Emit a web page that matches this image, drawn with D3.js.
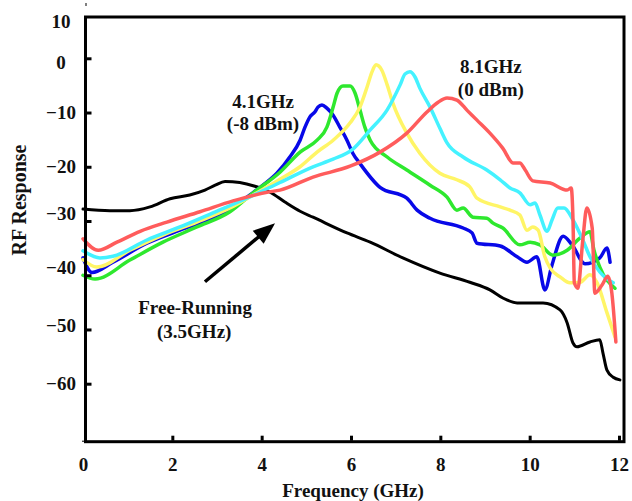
<!DOCTYPE html>
<html><head><meta charset="utf-8">
<script src="https://cdn.jsdelivr.net/npm/d3@7"></script>
<style>
html,body{margin:0;padding:0;background:#fff;}
svg{display:block;}
text{font-family:"Liberation Serif","Times New Roman",Times,serif;font-weight:bold;fill:#111;}
</style></head><body>
<svg id="chart" width="632" height="501"></svg>
<script>
// ---- data ----
const xTicks = [0, 2, 4, 6, 8, 10, 12];
const yTicks = [10, 0, -10, -20, -30, -40, -50, -60];
const xTitle = "Frequency (GHz)";
const yTitle = "RF Response";

// Free-running (black)
const freeRunning = [[0,-27.8],[0.6,-28.1],[1.05,-28.1],[1.5,-27.4],[1.95,-25.9],[2.39,-25.2],[2.73,-24.3],[2.96,-23.4],[3.18,-22.7],[3.51,-22.9],[3.85,-23.6],[4.19,-24.7],[4.52,-26.5],[4.86,-28.2],[5.15,-29.3],[5.91,-32.2],[6.43,-33.9],[7.16,-36.8],[7.99,-39.6],[8.66,-41.3],[9.11,-42.7],[9.4,-44.2],[9.72,-45.1],[10.3,-45.1],[10.68,-46.4],[10.84,-48.8],[10.97,-52.5],[11.06,-53.2],[11.35,-52.3],[11.57,-51.9],[11.64,-54.3],[11.73,-57.5],[11.87,-58.8],[12.02,-59.3]];
// Injection-locked 4.1 GHz (blue)
const locked41 = [[0,-36.8],[0.2,-39.5],[0.67,-37.6],[1.43,-34.1],[2.17,-31.7],[2.91,-29.5],[3.29,-28.0],[3.67,-25.6],[4.03,-23.4],[4.34,-21.2],[4.63,-18.2],[4.86,-15.1],[4.97,-12.7],[5.08,-10.8],[5.19,-9.9],[5.26,-9.0],[5.35,-8.6],[5.46,-9.2],[5.6,-10.5],[5.75,-12.7],[5.91,-15.1],[6.04,-17.5],[6.2,-19.4],[6.65,-23.8],[7.25,-25.8],[7.48,-28.0],[7.77,-29.5],[8.51,-31.3],[8.71,-32.2],[8.82,-34.1],[9.34,-34.6],[9.72,-36.6],[9.94,-37.6],[10.16,-36.6],[10.34,-42.7],[10.5,-38.1],[10.75,-32.8],[10.95,-34.4],[11.24,-37.9],[11.57,-36.8],[11.73,-35.0],[11.8,-37.6]];
// green
const lockedGreen = [[0,-40.0],[0.27,-40.7],[1.05,-37.2],[1.79,-33.9],[2.55,-31.1],[3.29,-28.3],[3.81,-24.8],[4.41,-21.0],[4.86,-17.3],[5.24,-15.1],[5.46,-12.7],[5.6,-9.0],[5.69,-6.4],[5.82,-5.1],[5.98,-5.1],[6.09,-6.4],[6.2,-9.5],[6.31,-12.7],[6.43,-15.1],[6.81,-18.2],[7.25,-20.6],[7.77,-23.4],[8.15,-25.6],[8.37,-28.0],[8.51,-27.6],[8.73,-29.3],[9.04,-29.5],[9.18,-30.4],[9.4,-31.3],[9.78,-34.4],[10.01,-33.9],[10.23,-34.4],[10.52,-36.3],[10.84,-35.4],[11.13,-33.1],[11.35,-32.0],[11.44,-35.4],[11.57,-38.5],[11.91,-42.4]];
// yellow
const lockedYellow = [[0,-37.1],[0.31,-38.5],[1.05,-35.4],[1.79,-32.6],[2.55,-30.2],[3.29,-27.6],[3.81,-25.2],[4.41,-22.3],[4.86,-20.0],[5.24,-17.3],[5.6,-15.1],[5.98,-11.9],[6.2,-9.0],[6.36,-5.3],[6.47,-2.5],[6.56,-1.2],[6.69,-2.2],[6.81,-4.9],[6.94,-8.3],[7.25,-13.8],[7.54,-17.5],[7.99,-21.2],[8.37,-22.4],[8.66,-23.7],[8.82,-25.8],[9.34,-27.4],[9.56,-28.0],[9.78,-28.9],[9.94,-31.7],[10.07,-31.1],[10.19,-31.7],[10.34,-36.6],[10.46,-38.7],[10.68,-40.3],[10.9,-41.4],[11.13,-41.3],[11.35,-39.9],[11.51,-41.4],[11.73,-46.9],[11.91,-51.4]];
// cyan
const lockedCyan = [[0,-35.5],[0.38,-36.8],[0.67,-36.5],[1.43,-33.5],[2.17,-31.1],[2.91,-28.5],[3.67,-25.8],[4.41,-22.9],[5.15,-20.0],[5.6,-18.6],[6.02,-16.9],[6.43,-13.2],[6.81,-9.5],[7.1,-4.9],[7.21,-2.9],[7.32,-2.5],[7.43,-3.4],[7.54,-5.5],[7.77,-9.0],[7.99,-12.9],[8.15,-15.6],[8.51,-18.2],[9.04,-20.6],[9.34,-22.4],[9.56,-23.9],[9.78,-24.8],[10.01,-27.0],[10.12,-26.7],[10.23,-28.9],[10.39,-31.9],[10.5,-29.8],[10.63,-27.6],[10.77,-27.6],[10.97,-29.8],[11.19,-33.5],[11.35,-36.6],[11.57,-39.4],[11.87,-41.4]];
// Injection-locked 8.1 GHz (red)
const locked81 = [[0,-33.3],[0.34,-35.4],[0.76,-33.9],[1.28,-31.9],[1.88,-30.2],[2.62,-28.3],[3.36,-26.3],[4.12,-24.7],[4.41,-24.3],[5.15,-21.9],[5.98,-19.9],[6.65,-17.3],[7.25,-13.8],[7.7,-9.9],[7.95,-8.1],[8.15,-7.3],[8.37,-7.7],[8.6,-9.6],[8.82,-11.4],[9.11,-13.8],[9.4,-16.6],[9.63,-19.3],[9.78,-19.3],[9.9,-20.6],[10.07,-22.6],[10.46,-23.0],[10.84,-24.3],[10.93,-23.9],[10.97,-29.8],[11.0,-41.4],[11.08,-42.4],[11.19,-33.5],[11.28,-27.6],[11.4,-31.3],[11.46,-43.3],[11.62,-41.8],[11.75,-40.2],[11.84,-43.3],[11.93,-52.3]];

const seriesList = [
  {name:"free", data: freeRunning, color:"#000000", width:3},
  {name:"4.1", data: locked41, color:"#0808e8", width:3.5},
  {name:"g", data: lockedGreen, color:"#2ee82e", width:3.5},
  {name:"y", data: lockedYellow, color:"#fff566", width:3.5},
  {name:"c", data: lockedCyan, color:"#44f2ff", width:3.5},
  {name:"8.1", data: locked81, color:"#ff5c5c", width:3.5}
];

// annotation text (positions in data units)
const annotations = [
  {text:"4.1GHz", x:4.03, y:-7.9},
  {text:"(-8 dBm)", x:4.03, y:-12.0},
  {text:"8.1GHz", x:9.13, y:-1.6},
  {text:"(0 dBm)", x:9.13, y:-5.7},
  {text:"Free-Running", x:2.51, y:-45.9},
  {text:"(3.5GHz)", x:2.49, y:-50.3}
];
const arrowFrom = [2.73, -41.2];
const arrowTo = [4.3, -30.4];

// ---- drawing ----
const svg = d3.select("#chart");
const x = d3.scaleLinear().domain([0, 12]).range([83, 619]);
const y = d3.scaleLinear().domain([0, -60]).range([58.3, 383.7]);
const frame = {l:85.5, r:624, t:17, b:441.7};

// curves
const line = d3.line().x(d => x(d[0])).y(d => y(d[1])).curve(d3.curveMonotoneX);
svg.append("g").selectAll("path").data(seriesList).join("path")
  .attr("d", s => line(s.data))
  .attr("fill", "none")
  .attr("stroke", s => s.color)
  .attr("stroke-width", s => s.width)
  .attr("stroke-linejoin", "round")
  .attr("stroke-linecap", "round");

// frame
svg.append("rect")
  .attr("x", frame.l).attr("y", frame.t)
  .attr("width", frame.r - frame.l).attr("height", frame.b - frame.t)
  .attr("fill", "none").attr("stroke", "#000").attr("stroke-width", 3);

// x axis
const gx = svg.append("g").attr("transform", `translate(0,${frame.b})`)
  .call(d3.axisBottom(x).tickValues(xTicks).tickSize(-6).tickPadding(16).tickFormat(d3.format("d")));
gx.select(".domain").remove();
gx.selectAll(".tick line").attr("stroke", "#000").attr("stroke-width", 3)
  .attr("y1", -1).attr("y2", d => d === 0 ? 0 : -6);
gx.selectAll(".tick text").style("font-size", "19px").style("font-family", '"Liberation Serif",serif')
  .style("font-weight", "bold").attr("fill", "#111");

// y axis
const labelShift = {10: 17, 0: 4, "-30": -8, "-40": -8, "-50": -4};
const gy = svg.append("g").attr("transform", `translate(${frame.l},0)`)
  .call(d3.axisLeft(y).tickValues(yTicks).tickSize(-6).tickFormat(d3.format("d")));
gy.select(".domain").remove();
gy.selectAll(".tick line").attr("stroke", "#000").attr("stroke-width", 3)
  .attr("x1", 1).attr("x2", d => d === 10 ? 0 : 6);
gy.selectAll(".tick text").style("font-size", "19px").style("font-family", '"Liberation Serif",serif')
  .style("font-weight", "bold").attr("fill", "#111")
  .attr("text-anchor", "middle").attr("x", 61 - frame.l)
  .attr("dy", d => (0.32 * 19 + (labelShift[d] || 0)) + "px");

// axis titles
svg.append("text").attr("x", 353).attr("y", 497).attr("text-anchor", "middle")
  .style("font-size", "19px").text(xTitle);
svg.append("text").attr("transform", "translate(26,200) rotate(-90)").attr("text-anchor", "middle")
  .style("font-size", "20px").text(yTitle);

// annotations
svg.append("g").selectAll("text").data(annotations).join("text")
  .attr("x", d => x(d.x)).attr("y", d => y(d.y))
  .attr("text-anchor", "middle").attr("dominant-baseline", "central")
  .style("font-size", "19px").text(d => d.text);

// arrow
const x0 = x(arrowFrom[0]), y0 = y(arrowFrom[1]), x1 = x(arrowTo[0]), y1 = y(arrowTo[1]);
const ang = Math.atan2(y1 - y0, x1 - x0);
const hl = 22, hw = 8.5;
const bx = x1 - hl * Math.cos(ang), by = y1 - hl * Math.sin(ang);
svg.append("line").attr("x1", x0).attr("y1", y0).attr("x2", bx + 2*Math.cos(ang)).attr("y2", by + 2*Math.sin(ang))
  .attr("stroke", "#000").attr("stroke-width", 3.5);
svg.append("path")
  .attr("d", `M${x1},${y1}L${bx - hw*Math.sin(ang)},${by + hw*Math.cos(ang)}L${bx + hw*Math.sin(ang)},${by - hw*Math.cos(ang)}Z`)
  .attr("fill", "#000");
</script>
</body></html>
